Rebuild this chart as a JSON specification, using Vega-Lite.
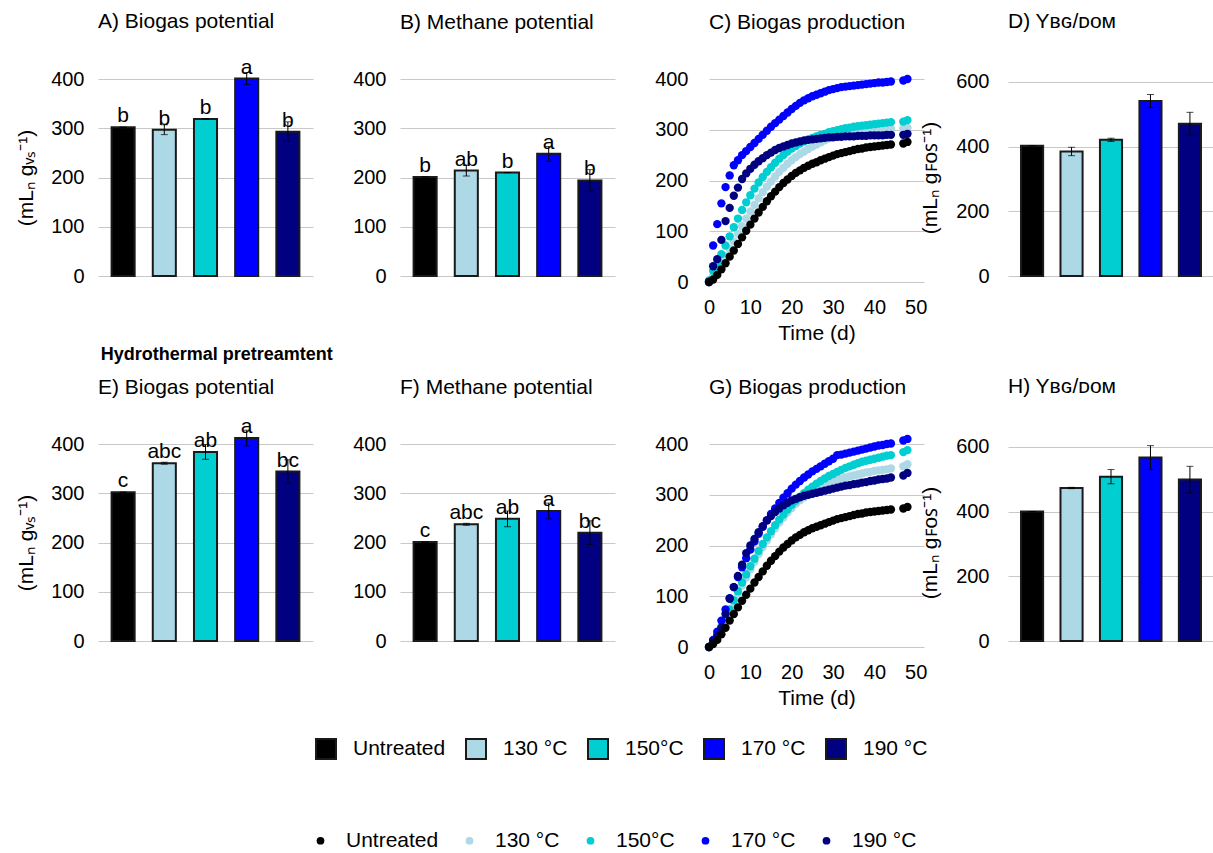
{
"$schema":"https://vega.github.io/schema/vega-lite/v6.json",
"background":"white",
"padding":{"left":15,"top":10,"right":0,"bottom":0},
"config":{
 "font":"Liberation Sans",
 "view":{"stroke":null},
 "axis":{"domain":false,"ticks":false,"tickSize":0,"labelFontSize":20,"labelColor":"#000","titleFontSize":21,"titleFontWeight":"normal","titleColor":"#000","gridColor":"#c8c8c8","labelPadding":14,"titlePadding":14},
 "title":{"fontSize":21,"fontWeight":"normal","color":"#000","anchor":"start","frame":"group","offset":12},
 "legend":{"labelFontSize":21,"labelColor":"#000","labelLimit":300}
},
"datasets":{
"bars":[
{"p":"A","cat":"Untreated","v":302,"e":0,"lab":"b"},
{"p":"A","cat":"130 °C","v":297,"e":10,"lab":"b"},
{"p":"A","cat":"150°C","v":319,"e":0,"lab":"b"},
{"p":"A","cat":"170 °C","v":401,"e":12,"lab":"a"},
{"p":"A","cat":"190 °C","v":293,"e":20,"lab":"b"},
{"p":"B","cat":"Untreated","v":201,"e":0,"lab":"b"},
{"p":"B","cat":"130 °C","v":214,"e":11,"lab":"ab"},
{"p":"B","cat":"150°C","v":210,"e":0,"lab":"b"},
{"p":"B","cat":"170 °C","v":248,"e":15,"lab":"a"},
{"p":"B","cat":"190 °C","v":194,"e":22,"lab":"b"},
{"p":"D","cat":"Untreated","v":403,"e":0,"lab":""},
{"p":"D","cat":"130 °C","v":385,"e":13,"lab":""},
{"p":"D","cat":"150°C","v":421,"e":5,"lab":""},
{"p":"D","cat":"170 °C","v":541,"e":20,"lab":""},
{"p":"D","cat":"190 °C","v":471,"e":35,"lab":""},
{"p":"E","cat":"Untreated","v":302,"e":0,"lab":"c"},
{"p":"E","cat":"130 °C","v":361,"e":2,"lab":"abc"},
{"p":"E","cat":"150°C","v":384,"e":15,"lab":"ab"},
{"p":"E","cat":"170 °C","v":412,"e":16,"lab":"a"},
{"p":"E","cat":"190 °C","v":344,"e":24,"lab":"bc"},
{"p":"F","cat":"Untreated","v":201,"e":0,"lab":"c"},
{"p":"F","cat":"130 °C","v":237,"e":2,"lab":"abc"},
{"p":"F","cat":"150°C","v":248,"e":16,"lab":"ab"},
{"p":"F","cat":"170 °C","v":264,"e":16,"lab":"a"},
{"p":"F","cat":"190 °C","v":220,"e":24,"lab":"bc"},
{"p":"H","cat":"Untreated","v":400,"e":0,"lab":""},
{"p":"H","cat":"130 °C","v":473,"e":2,"lab":""},
{"p":"H","cat":"150°C","v":508,"e":22,"lab":""},
{"p":"H","cat":"170 °C","v":567,"e":37,"lab":""},
{"p":"H","cat":"190 °C","v":499,"e":41,"lab":""}
],
"curves":[
{"p":"C","t":0,"Untreated":0,"130 °C":0,"150°C":3,"170 °C":0,"190 °C":0},
{"p":"C","t":1,"Untreated":5,"130 °C":12,"150°C":22,"170 °C":72,"190 °C":31},
{"p":"C","t":2,"Untreated":14,"130 °C":24,"150°C":38,"170 °C":114,"190 °C":45},
{"p":"C","t":3,"Untreated":25,"130 °C":37,"150°C":55,"170 °C":155,"190 °C":83},
{"p":"C","t":4,"Untreated":37,"130 °C":51,"150°C":72,"170 °C":187,"190 °C":120},
{"p":"C","t":5,"Untreated":50,"130 °C":65,"150°C":90,"170 °C":210,"190 °C":146},
{"p":"C","t":6,"Untreated":62,"130 °C":80,"150°C":108,"170 °C":230,"190 °C":170},
{"p":"C","t":7,"Untreated":75,"130 °C":95,"150°C":125,"170 °C":240,"190 °C":186},
{"p":"C","t":8,"Untreated":88,"130 °C":110,"150°C":142,"170 °C":250,"190 °C":203},
{"p":"C","t":9,"Untreated":101,"130 °C":125,"150°C":157,"170 °C":258,"190 °C":214},
{"p":"C","t":10,"Untreated":113,"130 °C":139,"150°C":171,"170 °C":266,"190 °C":223},
{"p":"C","t":11,"Untreated":125,"130 °C":152,"150°C":184,"170 °C":274,"190 °C":231},
{"p":"C","t":12,"Untreated":137,"130 °C":165,"150°C":196,"170 °C":282,"190 °C":238},
{"p":"C","t":13,"Untreated":148,"130 °C":177,"150°C":207,"170 °C":290,"190 °C":244},
{"p":"C","t":14,"Untreated":159,"130 °C":188,"150°C":217,"170 °C":298,"190 °C":250},
{"p":"C","t":15,"Untreated":169,"130 °C":198,"150°C":226,"170 °C":306,"190 °C":255},
{"p":"C","t":16,"Untreated":178,"130 °C":208,"150°C":235,"170 °C":313,"190 °C":260},
{"p":"C","t":17,"Untreated":187,"130 °C":217,"150°C":243,"170 °C":320,"190 °C":264},
{"p":"C","t":18,"Untreated":195,"130 °C":225,"150°C":250,"170 °C":327,"190 °C":267},
{"p":"C","t":19,"Untreated":202,"130 °C":233,"150°C":257,"170 °C":334,"190 °C":270},
{"p":"C","t":20,"Untreated":209,"130 °C":240,"150°C":263,"170 °C":341,"190 °C":273},
{"p":"C","t":21,"Untreated":215,"130 °C":246,"150°C":268,"170 °C":347,"190 °C":275},
{"p":"C","t":22,"Untreated":220,"130 °C":252,"150°C":273,"170 °C":353,"190 °C":277},
{"p":"C","t":23,"Untreated":225,"130 °C":257,"150°C":277,"170 °C":358,"190 °C":279},
{"p":"C","t":24,"Untreated":229,"130 °C":262,"150°C":281,"170 °C":362,"190 °C":280},
{"p":"C","t":25,"Untreated":233,"130 °C":267,"150°C":284,"170 °C":366,"190 °C":281},
{"p":"C","t":26,"Untreated":236,"130 °C":271,"150°C":287,"170 °C":369,"190 °C":282},
{"p":"C","t":27,"Untreated":240,"130 °C":275,"150°C":290,"170 °C":372,"190 °C":283},
{"p":"C","t":28,"Untreated":243,"130 °C":279,"150°C":292,"170 °C":375,"190 °C":284},
{"p":"C","t":29,"Untreated":246,"130 °C":283,"150°C":295,"170 °C":378,"190 °C":285},
{"p":"C","t":30,"Untreated":249,"130 °C":286,"150°C":297,"170 °C":380,"190 °C":285},
{"p":"C","t":31,"Untreated":252,"130 °C":289,"150°C":299,"170 °C":382,"190 °C":286},
{"p":"C","t":32,"Untreated":254,"130 °C":291,"150°C":301,"170 °C":384,"190 °C":286},
{"p":"C","t":33,"Untreated":256,"130 °C":293,"150°C":303,"170 °C":385,"190 °C":287},
{"p":"C","t":34,"Untreated":258,"130 °C":295,"150°C":304,"170 °C":386,"190 °C":287},
{"p":"C","t":35,"Untreated":260,"130 °C":296,"150°C":306,"170 °C":387,"190 °C":287},
{"p":"C","t":36,"Untreated":262,"130 °C":297,"150°C":307,"170 °C":388,"190 °C":288},
{"p":"C","t":37,"Untreated":263,"130 °C":298,"150°C":308,"170 °C":389,"190 °C":288},
{"p":"C","t":38,"Untreated":265,"130 °C":299,"150°C":309,"170 °C":390,"190 °C":288},
{"p":"C","t":39,"Untreated":266,"130 °C":300,"150°C":310,"170 °C":391,"190 °C":289},
{"p":"C","t":40,"Untreated":267,"130 °C":300,"150°C":311,"170 °C":392,"190 °C":289},
{"p":"C","t":41,"Untreated":268,"130 °C":301,"150°C":312,"170 °C":393,"190 °C":289},
{"p":"C","t":42,"Untreated":269,"130 °C":301,"150°C":313,"170 °C":393,"190 °C":289},
{"p":"C","t":43,"Untreated":270,"130 °C":302,"150°C":314,"170 °C":394,"190 °C":290},
{"p":"C","t":44,"Untreated":271,"130 °C":302,"150°C":315,"170 °C":395,"190 °C":290},
{"p":"C","t":47,"Untreated":273,"130 °C":303,"150°C":316,"170 °C":397,"190 °C":290},
{"p":"C","t":48,"Untreated":276,"130 °C":304,"150°C":319,"170 °C":400,"190 °C":292},
{"p":"G","t":0,"Untreated":0,"130 °C":0,"150°C":0,"170 °C":0,"190 °C":0},
{"p":"G","t":1,"Untreated":6,"130 °C":10,"150°C":12,"170 °C":14,"190 °C":12},
{"p":"G","t":2,"Untreated":14,"130 °C":23,"150°C":25,"170 °C":30,"190 °C":22},
{"p":"G","t":3,"Untreated":25,"130 °C":38,"150°C":40,"170 °C":52,"190 °C":38},
{"p":"G","t":4,"Untreated":38,"130 °C":54,"150°C":56,"170 °C":74,"190 °C":65},
{"p":"G","t":5,"Untreated":52,"130 °C":70,"150°C":74,"170 °C":96,"190 °C":95},
{"p":"G","t":6,"Untreated":65,"130 °C":87,"150°C":92,"170 °C":118,"190 °C":118},
{"p":"G","t":7,"Untreated":78,"130 °C":104,"150°C":110,"170 °C":138,"190 °C":140},
{"p":"G","t":8,"Untreated":91,"130 °C":121,"150°C":127,"170 °C":157,"190 °C":162},
{"p":"G","t":9,"Untreated":103,"130 °C":137,"150°C":143,"170 °C":175,"190 °C":185},
{"p":"G","t":10,"Untreated":115,"130 °C":153,"150°C":159,"170 °C":192,"190 °C":200},
{"p":"G","t":11,"Untreated":127,"130 °C":168,"150°C":174,"170 °C":208,"190 °C":213},
{"p":"G","t":12,"Untreated":138,"130 °C":183,"150°C":189,"170 °C":223,"190 °C":226},
{"p":"G","t":13,"Untreated":149,"130 °C":197,"150°C":203,"170 °C":237,"190 °C":238},
{"p":"G","t":14,"Untreated":160,"130 °C":210,"150°C":216,"170 °C":250,"190 °C":249},
{"p":"G","t":15,"Untreated":170,"130 °C":222,"150°C":228,"170 °C":262,"190 °C":258},
{"p":"G","t":16,"Untreated":179,"130 °C":234,"150°C":240,"170 °C":273,"190 °C":266},
{"p":"G","t":17,"Untreated":188,"130 °C":245,"150°C":251,"170 °C":284,"190 °C":273},
{"p":"G","t":18,"Untreated":196,"130 °C":255,"150°C":261,"170 °C":294,"190 °C":279},
{"p":"G","t":19,"Untreated":203,"130 °C":265,"150°C":271,"170 °C":303,"190 °C":284},
{"p":"G","t":20,"Untreated":210,"130 °C":274,"150°C":280,"170 °C":312,"190 °C":289},
{"p":"G","t":21,"Untreated":216,"130 °C":282,"150°C":288,"170 °C":320,"190 °C":292},
{"p":"G","t":22,"Untreated":221,"130 °C":289,"150°C":296,"170 °C":327,"190 °C":295},
{"p":"G","t":23,"Untreated":226,"130 °C":295,"150°C":303,"170 °C":334,"190 °C":298},
{"p":"G","t":24,"Untreated":230,"130 °C":300,"150°C":310,"170 °C":340,"190 °C":300},
{"p":"G","t":25,"Untreated":234,"130 °C":305,"150°C":316,"170 °C":346,"190 °C":302},
{"p":"G","t":26,"Untreated":237,"130 °C":310,"150°C":322,"170 °C":351,"190 °C":304},
{"p":"G","t":27,"Untreated":240,"130 °C":314,"150°C":327,"170 °C":356,"190 °C":306},
{"p":"G","t":28,"Untreated":243,"130 °C":318,"150°C":332,"170 °C":361,"190 °C":308},
{"p":"G","t":29,"Untreated":246,"130 °C":322,"150°C":337,"170 °C":366,"190 °C":310},
{"p":"G","t":30,"Untreated":249,"130 °C":326,"150°C":341,"170 °C":371,"190 °C":312},
{"p":"G","t":31,"Untreated":252,"130 °C":329,"150°C":345,"170 °C":378,"190 °C":314},
{"p":"G","t":32,"Untreated":254,"130 °C":332,"150°C":349,"170 °C":379,"190 °C":316},
{"p":"G","t":33,"Untreated":256,"130 °C":334,"150°C":353,"170 °C":381,"190 °C":318},
{"p":"G","t":34,"Untreated":258,"130 °C":336,"150°C":356,"170 °C":383,"190 °C":319},
{"p":"G","t":35,"Untreated":260,"130 °C":338,"150°C":359,"170 °C":385,"190 °C":321},
{"p":"G","t":36,"Untreated":262,"130 °C":340,"150°C":362,"170 °C":387,"190 °C":322},
{"p":"G","t":37,"Untreated":263,"130 °C":342,"150°C":365,"170 °C":389,"190 °C":324},
{"p":"G","t":38,"Untreated":265,"130 °C":344,"150°C":367,"170 °C":391,"190 °C":325},
{"p":"G","t":39,"Untreated":266,"130 °C":345,"150°C":369,"170 °C":393,"190 °C":327},
{"p":"G","t":40,"Untreated":267,"130 °C":347,"150°C":371,"170 °C":395,"190 °C":328},
{"p":"G","t":41,"Untreated":268,"130 °C":348,"150°C":373,"170 °C":397,"190 °C":330},
{"p":"G","t":42,"Untreated":269,"130 °C":349,"150°C":375,"170 °C":398,"190 °C":331},
{"p":"G","t":43,"Untreated":270,"130 °C":350,"150°C":377,"170 °C":400,"190 °C":332},
{"p":"G","t":44,"Untreated":271,"130 °C":352,"150°C":378,"170 °C":401,"190 °C":334},
{"p":"G","t":47,"Untreated":273,"130 °C":356,"150°C":384,"170 °C":407,"190 °C":338},
{"p":"G","t":48,"Untreated":276,"130 °C":360,"150°C":388,"170 °C":410,"190 °C":343}
]
},
"spacing":2,
"vconcat":[
{"spacing":39,"hconcat":[
 {"width":215,"height":197,"title":{"text":"A) Biogas potential","offset":25},
  "data":{"name":"bars"},"transform":[{"filter":"datum.p === 'A'"}],
  "encoding":{"x":{"field":"cat","type":"nominal","sort":["Untreated","130 °C","150°C","170 °C","190 °C"],"axis":null,"scale":{"paddingInner":0.44,"paddingOuter":0.33}},
   "y":{"field":"v","type":"quantitative","scale":{"domain":[0,400]},"axis":{"values":[0,100,200,300,400],"title":"(mLₙ gᵥₛ⁻¹)"}}},
  "layer":[
   {"mark":{"type":"bar","stroke":"#1a1a1a","strokeWidth":2},"encoding":{"fill":{"field":"cat","type":"nominal","scale":{"domain":["Untreated","130 °C","150°C","170 °C","190 °C"],"range":["#000000","#ADD8E6","#00CED1","#0000FF","#000080"]},"legend":{"title":null,"orient":"none","legendX":217,"legendY":659,"direction":"horizontal","symbolType":"square","symbolSize":400,"symbolStrokeColor":"#1a1a1a","symbolStrokeWidth":2,"labelOffset":16,"columnPadding":16}}}},
   {"mark":{"type":"errorbar","ticks":{"size":7},"color":"#000","thickness":1},"encoding":{"yError":{"field":"e"}}},
   {"mark":{"type":"text","baseline":"alphabetic","dy":-5,"fontSize":21,"color":"#000"},"encoding":{"text":{"field":"lab"}}}
  ]},
 {"width":215,"height":197,"title":{"text":"B) Methane potential","offset":36},
  "data":{"name":"bars"},"transform":[{"filter":"datum.p === 'B'"}],
  "encoding":{"x":{"field":"cat","type":"nominal","sort":["Untreated","130 °C","150°C","170 °C","190 °C"],"axis":null,"scale":{"paddingInner":0.44,"paddingOuter":0.33}},
   "y":{"field":"v","type":"quantitative","scale":{"domain":[0,400]},"axis":{"values":[0,100,200,300,400],"title":null}}},
  "layer":[
   {"mark":{"type":"bar","stroke":"#1a1a1a","strokeWidth":2},"encoding":{"fill":{"field":"cat","type":"nominal","scale":{"domain":["Untreated","130 °C","150°C","170 °C","190 °C"],"range":["#000000","#ADD8E6","#00CED1","#0000FF","#000080"]},"legend":{"title":null,"orient":"none","legendX":217,"legendY":659,"direction":"horizontal","symbolType":"square","symbolSize":400,"symbolStrokeColor":"#1a1a1a","symbolStrokeWidth":2,"labelOffset":16,"columnPadding":16}}}},
   {"mark":{"type":"errorbar","ticks":{"size":7},"color":"#000","thickness":1},"encoding":{"yError":{"field":"e"}}},
   {"mark":{"type":"text","baseline":"alphabetic","dy":-5,"fontSize":21,"color":"#000"},"encoding":{"text":{"field":"lab"}}}
  ]},
 {"spacing":-8,"hconcat":[
  {"width":215,"height":203,"title":{"text":"C) Biogas production","offset":36},
   "data":{"name":"curves"},"transform":[{"filter":"datum.p === 'C'"},{"fold":["Untreated","130 °C","150°C","170 °C","190 °C"],"as":["cat","v"]}],
   "mark":{"type":"point","filled":true,"size":70,"opacity":1},
   "encoding":{"x":{"field":"t","type":"quantitative","scale":{"domain":[0,52],"nice":false},"axis":{"values":[0,10,20,30,40,50],"title":"Time (d)","grid":false,"labelFlush":false,"labelPadding":15,"titlePadding":5}},
    "y":{"field":"v","type":"quantitative","scale":{"domain":[0,400]},"axis":{"values":[0,100,200,300,400],"title":null,"labelPadding":21}},
    "color":{"field":"cat","type":"nominal","sort":["Untreated","130 °C","150°C","170 °C","190 °C"],"scale":{"range":["#000000","#ADD8E6","#00CED1","#0000FF","#000080"]},"legend":{"title":null,"orient":"none","legendX":212,"legendY":751,"direction":"horizontal","symbolType":"circle","symbolSize":60,"labelOffset":15,"columnPadding":20}},
    "order":{"field":"cat"}}},
  {"width":206,"height":197,"title":{"text":"D) Yʙɢ/ᴅᴏᴍ","offset":40},
   "data":{"name":"bars"},"transform":[{"filter":"datum.p === 'D'"}],
   "encoding":{"x":{"field":"cat","type":"nominal","sort":["Untreated","130 °C","150°C","170 °C","190 °C"],"axis":null,"scale":{"paddingInner":0.44,"paddingOuter":0.33}},
    "y":{"field":"v","type":"quantitative","scale":{"domain":[0,609],"nice":false},"axis":{"values":[0,200,400,600],"title":"(mLₙ gꜰᴏꜱ⁻¹)","titlePadding":15,"labelPadding":19}}},
   "layer":[
    {"mark":{"type":"bar","stroke":"#1a1a1a","strokeWidth":2},"encoding":{"fill":{"field":"cat","type":"nominal","scale":{"domain":["Untreated","130 °C","150°C","170 °C","190 °C"],"range":["#000000","#ADD8E6","#00CED1","#0000FF","#000080"]},"legend":{"title":null,"orient":"none","legendX":217,"legendY":659,"direction":"horizontal","symbolType":"square","symbolSize":400,"symbolStrokeColor":"#1a1a1a","symbolStrokeWidth":2,"labelOffset":16,"columnPadding":16}}}},
    {"mark":{"type":"errorbar","ticks":{"size":7},"color":"#000","thickness":1},"encoding":{"yError":{"field":"e"}}}
   ]}
 ]}
]},
{"spacing":39,"title":{"text":"Hydrothermal pretreamtent","anchor":"start","frame":"bounds","dx":85,"fontSize":18,"fontWeight":"bold","offset":12},"hconcat":[
 {"width":215,"height":197,"title":{"text":"E) Biogas potential","offset":18},
  "data":{"name":"bars"},"transform":[{"filter":"datum.p === 'E'"}],
  "encoding":{"x":{"field":"cat","type":"nominal","sort":["Untreated","130 °C","150°C","170 °C","190 °C"],"axis":null,"scale":{"paddingInner":0.44,"paddingOuter":0.33}},
   "y":{"field":"v","type":"quantitative","scale":{"domain":[0,400]},"axis":{"values":[0,100,200,300,400],"title":"(mLₙ gᵥₛ⁻¹)"}}},
  "layer":[
   {"mark":{"type":"bar","stroke":"#1a1a1a","strokeWidth":2},"encoding":{"fill":{"field":"cat","type":"nominal","scale":{"domain":["Untreated","130 °C","150°C","170 °C","190 °C"],"range":["#000000","#ADD8E6","#00CED1","#0000FF","#000080"]},"legend":{"title":null,"orient":"none","legendX":217,"legendY":659,"direction":"horizontal","symbolType":"square","symbolSize":400,"symbolStrokeColor":"#1a1a1a","symbolStrokeWidth":2,"labelOffset":16,"columnPadding":16}}}},
   {"mark":{"type":"errorbar","ticks":{"size":7},"color":"#000","thickness":1},"encoding":{"yError":{"field":"e"}}},
   {"mark":{"type":"text","baseline":"alphabetic","dy":-5,"fontSize":21,"color":"#000"},"encoding":{"text":{"field":"lab"}}}
  ]},
 {"width":215,"height":197,"title":{"text":"F) Methane potential","offset":36},
  "data":{"name":"bars"},"transform":[{"filter":"datum.p === 'F'"}],
  "encoding":{"x":{"field":"cat","type":"nominal","sort":["Untreated","130 °C","150°C","170 °C","190 °C"],"axis":null,"scale":{"paddingInner":0.44,"paddingOuter":0.33}},
   "y":{"field":"v","type":"quantitative","scale":{"domain":[0,400]},"axis":{"values":[0,100,200,300,400],"title":null}}},
  "layer":[
   {"mark":{"type":"bar","stroke":"#1a1a1a","strokeWidth":2},"encoding":{"fill":{"field":"cat","type":"nominal","scale":{"domain":["Untreated","130 °C","150°C","170 °C","190 °C"],"range":["#000000","#ADD8E6","#00CED1","#0000FF","#000080"]},"legend":{"title":null,"orient":"none","legendX":217,"legendY":659,"direction":"horizontal","symbolType":"square","symbolSize":400,"symbolStrokeColor":"#1a1a1a","symbolStrokeWidth":2,"labelOffset":16,"columnPadding":16}}}},
   {"mark":{"type":"errorbar","ticks":{"size":7},"color":"#000","thickness":1},"encoding":{"yError":{"field":"e"}}},
   {"mark":{"type":"text","baseline":"alphabetic","dy":-5,"fontSize":21,"color":"#000"},"encoding":{"text":{"field":"lab"}}}
  ]},
 {"spacing":-8,"hconcat":[
  {"width":215,"height":203,"title":{"text":"G) Biogas production","offset":36},
   "data":{"name":"curves"},"transform":[{"filter":"datum.p === 'G'"},{"fold":["Untreated","130 °C","150°C","170 °C","190 °C"],"as":["cat","v"]}],
   "mark":{"type":"point","filled":true,"size":70,"opacity":1},
   "encoding":{"x":{"field":"t","type":"quantitative","scale":{"domain":[0,52],"nice":false},"axis":{"values":[0,10,20,30,40,50],"title":"Time (d)","grid":false,"labelFlush":false,"labelPadding":15,"titlePadding":5}},
    "y":{"field":"v","type":"quantitative","scale":{"domain":[0,400]},"axis":{"values":[0,100,200,300,400],"title":null,"labelPadding":21}},
    "color":{"field":"cat","type":"nominal","sort":["Untreated","130 °C","150°C","170 °C","190 °C"],"scale":{"range":["#000000","#ADD8E6","#00CED1","#0000FF","#000080"]},"legend":{"title":null,"orient":"none","legendX":212,"legendY":751,"direction":"horizontal","symbolType":"circle","symbolSize":60,"labelOffset":15,"columnPadding":20}},
    "order":{"field":"cat"}}},
  {"width":206,"height":197,"title":{"text":"H) Yʙɢ/ᴅᴏᴍ","offset":40},
   "data":{"name":"bars"},"transform":[{"filter":"datum.p === 'H'"}],
   "encoding":{"x":{"field":"cat","type":"nominal","sort":["Untreated","130 °C","150°C","170 °C","190 °C"],"axis":null,"scale":{"paddingInner":0.44,"paddingOuter":0.33}},
    "y":{"field":"v","type":"quantitative","scale":{"domain":[0,609],"nice":false},"axis":{"values":[0,200,400,600],"title":"(mLₙ gꜰᴏꜱ⁻¹)","titlePadding":15,"labelPadding":19}}},
   "layer":[
    {"mark":{"type":"bar","stroke":"#1a1a1a","strokeWidth":2},"encoding":{"fill":{"field":"cat","type":"nominal","scale":{"domain":["Untreated","130 °C","150°C","170 °C","190 °C"],"range":["#000000","#ADD8E6","#00CED1","#0000FF","#000080"]},"legend":{"title":null,"orient":"none","legendX":217,"legendY":659,"direction":"horizontal","symbolType":"square","symbolSize":400,"symbolStrokeColor":"#1a1a1a","symbolStrokeWidth":2,"labelOffset":16,"columnPadding":16}}}},
    {"mark":{"type":"errorbar","ticks":{"size":7},"color":"#000","thickness":1},"encoding":{"yError":{"field":"e"}}}
   ]}
 ]}
]}
]
}
